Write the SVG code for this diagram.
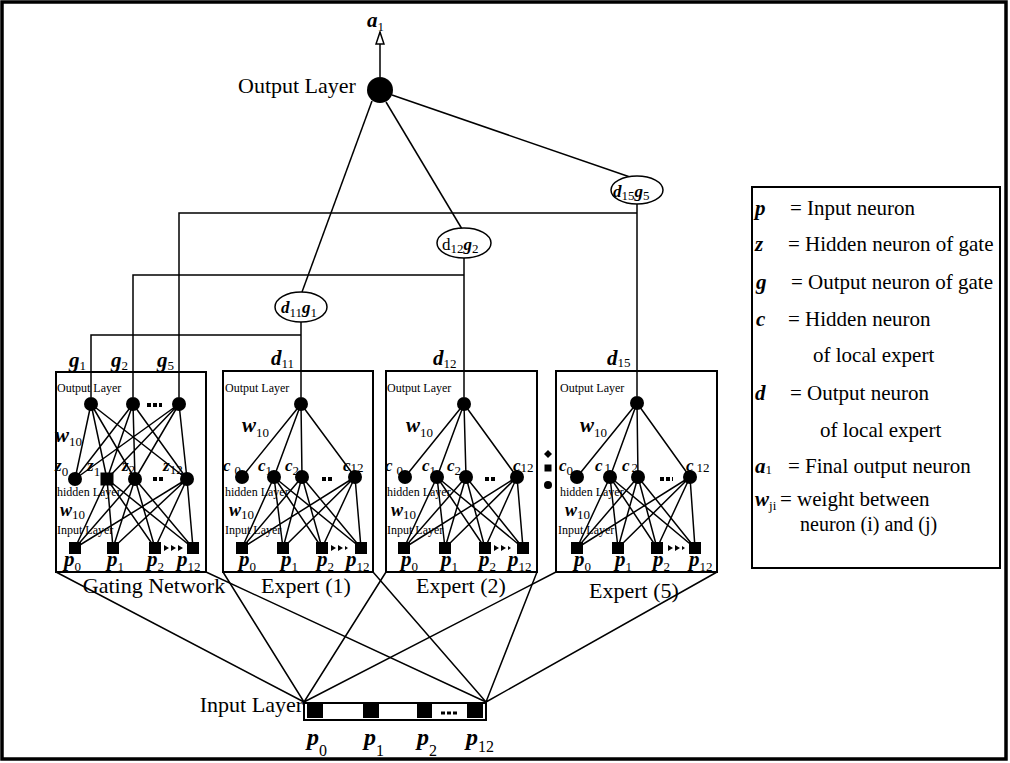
<svg xmlns="http://www.w3.org/2000/svg" width="1010" height="763" viewBox="0 0 1010 763">
<defs>
<style>
.ln{stroke:#000;stroke-width:1.5;fill:none}
.bx{stroke:#000;stroke-width:2;fill:none}
.nd{fill:#000}
text{font-family:"Liberation Serif","Times New Roman",serif;fill:#000}
.big{font-size:22px}
.leg{font-size:21px}
.sm{font-size:12px}
.m{font-style:italic;font-weight:bold;font-size:21px}
.mw{font-style:italic;font-weight:bold;font-size:18px}
.ms{font-style:italic;font-weight:bold;font-size:17px}
.sub{font-size:13px}
.dots{stroke:#000;stroke-width:4;stroke-dasharray:4 2;fill:none}
</style>
<marker id="oa" markerWidth="14" markerHeight="10" refX="13" refY="5" orient="auto" markerUnits="userSpaceOnUse" viewBox="0 0 14 10">
<path d="M13,5 L1,1 L1,9 Z" fill="#fff" stroke="#000" stroke-width="1.5"/>
</marker>
</defs>
<rect x="0" y="0" width="1010" height="763" fill="#fff"/>
<rect x="2" y="2" width="1004" height="757" fill="none" stroke="#000" stroke-width="3.5"/>

<g id="connectors">
<path class="ln" d="M380,77 V32" marker-end="url(#oa)"/>
<path class="ln" d="M372,101 L302,292"/>
<path class="ln" d="M386,102 L462,229"/>
<path class="ln" d="M392,95 L630,177"/>
<path class="ln" d="M301,322 V397"/>
<path class="ln" d="M464,258 V397"/>
<path class="ln" d="M637,204 V396"/>
<path class="ln" d="M91,397 V335 H301"/>
<path class="ln" d="M133,397 V275 H464"/>
<path class="ln" d="M179,397 V213 H637"/>
<path class="ln" d="M56,572 L304,702 M223,572 L304,702 M386,572 L304,702 M556,572 L304,702"/>
<path class="ln" d="M206,572 L486,702 M373,572 L486,702 M537,572 L486,702 M717,572 L486,702"/>
</g>

<g id="output-node">
<circle class="nd" cx="380" cy="90" r="13"/>
<text class="big" x="238" y="93">Output Layer</text>
<text x="367" y="27"><tspan class="m">a</tspan><tspan class="sub" dy="4">1</tspan></text>
</g>

<g id="gate-d11g1">
<ellipse cx="301" cy="307" rx="26" ry="15" fill="#fff" stroke="#000" stroke-width="1.5"/>
<text x="281" y="313"><tspan class="ms">d</tspan><tspan class="sub" dy="4">11</tspan><tspan class="ms" dy="-4">g</tspan><tspan class="sub" dy="4">1</tspan></text>
</g>
<g id="gate-d12g2">
<ellipse cx="464" cy="243" rx="27" ry="15" fill="#fff" stroke="#000" stroke-width="1.5"/>
<text x="442" y="250"><tspan style="font-size:17px">d</tspan><tspan class="sub" dy="3">12</tspan><tspan class="ms" dy="-3">g</tspan><tspan class="sub" dy="3">2</tspan></text>
</g>
<g id="gate-d15g5">
<ellipse cx="637" cy="190" rx="26" ry="14" fill="#fff" stroke="#000" stroke-width="1.5"/>
<text x="613" y="197"><tspan class="ms">d</tspan><tspan class="sub" dy="3">15</tspan><tspan class="ms" dy="-3">g</tspan><tspan class="sub" dy="3">5</tspan></text>
</g>

<g id="gating-network">
<rect class="bx" x="56" y="372" width="150" height="200"/>
<path class="ln" d="M91,404L75,479 M91,404L107,479 M91,404L135,479 M91,404L187,479 M133,404L75,479 M133,404L107,479 M133,404L135,479 M133,404L187,479 M179,404L75,479 M179,404L107,479 M179,404L135,479 M179,404L187,479"/>
<path class="ln" d="M107,479L75,548 M107,479L113,548 M107,479L155,548 M107,479L193,548 M135,479L75,548 M135,479L113,548 M135,479L155,548 M135,479L193,548 M187,479L75,548 M187,479L113,548 M187,479L155,548 M187,479L193,548"/>
<circle class="nd" cx="91" cy="404" r="7"/><circle class="nd" cx="133" cy="404" r="7"/><circle class="nd" cx="179" cy="404" r="7"/>
<path class="dots" d="M147,405 H162"/>
<circle class="nd" cx="75" cy="479" r="7"/><rect class="nd" x="100.5" y="472.5" width="13" height="13"/><circle class="nd" cx="135" cy="479" r="7"/><circle class="nd" cx="187" cy="479" r="7"/>
<path class="dots" d="M153,479 H163"/>
<rect class="nd" x="69" y="542" width="12" height="12"/><rect class="nd" x="107" y="542" width="12" height="12"/><rect class="nd" x="149" y="542" width="12" height="12"/><rect class="nd" x="187" y="542" width="12" height="12"/>
<path class="nd" d="M164,545 l5,3 l-5,3 Z M171,545 l5,3 l-5,3 Z M178,545 l5,3 l-5,3 Z"/>
<text class="sm" x="57" y="392">Output Layer</text>
<text class="sm" x="57" y="496">hidden Layer</text>
<text class="sm" x="57" y="534">Input Layer</text>
<text x="69" y="367"><tspan class="m">g</tspan><tspan class="sub" dy="3">1</tspan></text>
<text x="111" y="367"><tspan class="m">g</tspan><tspan class="sub" dy="3">2</tspan></text>
<text x="157" y="367"><tspan class="m">g</tspan><tspan class="sub" dy="3">5</tspan></text>
<text x="55" y="442"><tspan class="m">w</tspan><tspan class="sub" dy="4">10</tspan></text>
<text x="60" y="516"><tspan class="mw">w</tspan><tspan class="sub" dy="3">10</tspan></text>
<text x="55" y="471"><tspan class="ms">z</tspan><tspan class="sub" dy="5">0</tspan></text>
<text x="87" y="471"><tspan class="ms">z</tspan><tspan class="sub" dy="5">1</tspan></text>
<text x="122" y="471"><tspan class="ms">z</tspan><tspan class="sub" dy="3">2</tspan></text>
<text x="163" y="471"><tspan class="ms">z</tspan><tspan class="sub" dy="3">12</tspan></text>
<text x="64" y="566"><tspan class="m">p</tspan><tspan class="sub" dy="5">0</tspan></text>
<text x="107" y="566"><tspan class="m">p</tspan><tspan class="sub" dy="5">1</tspan></text>
<text x="147" y="566"><tspan class="m">p</tspan><tspan class="sub" dy="5">2</tspan></text>
<text x="177" y="566"><tspan class="m">p</tspan><tspan class="sub" dy="5">12</tspan></text>
<text class="big" x="154" y="593" text-anchor="middle">Gating Network</text>
</g>

<g id="expert-1">
<rect class="bx" x="223" y="371" width="150" height="201"/>
<path class="ln" d="M301,404L242,477 M301,404L274,477 M301,404L302,477 M301,404L355,477"/>
<path class="ln" d="M274,477L242,548 M274,477L283,548 M274,477L322,548 M274,477L361,548 M302,477L242,548 M302,477L283,548 M302,477L322,548 M302,477L361,548 M355,477L242,548 M355,477L283,548 M355,477L322,548 M355,477L361,548"/>
<circle class="nd" cx="301" cy="404" r="7"/>
<circle class="nd" cx="242" cy="477" r="7"/><circle class="nd" cx="274" cy="477" r="7"/><circle class="nd" cx="302" cy="477" r="7"/><circle class="nd" cx="355" cy="477" r="7"/>
<path class="dots" d="M322,479 H333"/>
<rect class="nd" x="236" y="542" width="12" height="12"/><rect class="nd" x="277" y="542" width="12" height="12"/><rect class="nd" x="316" y="542" width="12" height="12"/><rect class="nd" x="355" y="542" width="12" height="12"/>
<path class="nd" d="M331,545 l5,3 l-5,3 Z M338,545 l5,3 l-5,3 Z M345,546 l3,2 l-3,2 Z"/>
<text class="sm" x="225" y="392">Output Layer</text>
<text class="sm" x="225" y="496">hidden Layer</text>
<text class="sm" x="225" y="534">Input Layer</text>
<text x="271" y="365"><tspan class="m">d</tspan><tspan class="sub" dy="3">11</tspan></text>
<text x="242" y="432"><tspan class="m">w</tspan><tspan class="sub" dy="5">10</tspan></text>
<text x="229" y="516"><tspan class="mw">w</tspan><tspan class="sub" dy="3">10</tspan></text>
<text x="223" y="471"><tspan class="ms">c</tspan><tspan class="sub" dy="4" dx="4">0</tspan></text>
<text x="258" y="471"><tspan class="ms">c</tspan><tspan class="sub" dy="4">1</tspan></text>
<text x="285" y="471"><tspan class="ms">c</tspan><tspan class="sub" dy="4">2</tspan></text>
<text x="343" y="471"><tspan class="ms">c</tspan><tspan class="sub" dy="1">12</tspan></text>
<text x="239" y="566"><tspan class="m">p</tspan><tspan class="sub" dy="5">0</tspan></text>
<text x="281" y="566"><tspan class="m">p</tspan><tspan class="sub" dy="5">1</tspan></text>
<text x="317" y="566"><tspan class="m">p</tspan><tspan class="sub" dy="5">2</tspan></text>
<text x="346" y="566"><tspan class="m">p</tspan><tspan class="sub" dy="5">12</tspan></text>
<text class="big" x="306" y="593" text-anchor="middle">Expert (1)</text>
</g>

<g id="expert-2">
<rect class="bx" x="386" y="371" width="151" height="201"/>
<path class="ln" d="M464,404L405,477 M464,404L437,477 M464,404L466,477 M464,404L517,477"/>
<path class="ln" d="M437,477L404,548 M437,477L445,548 M437,477L485,548 M437,477L523,548 M466,477L404,548 M466,477L445,548 M466,477L485,548 M466,477L523,548 M517,477L404,548 M517,477L445,548 M517,477L485,548 M517,477L523,548"/>
<circle class="nd" cx="464" cy="404" r="7"/>
<circle class="nd" cx="405" cy="477" r="7"/><circle class="nd" cx="437" cy="477" r="7"/><circle class="nd" cx="466" cy="477" r="7"/><circle class="nd" cx="517" cy="477" r="7"/>
<path class="dots" d="M485,479 H497"/>
<rect class="nd" x="398" y="542" width="12" height="12"/><rect class="nd" x="439" y="542" width="12" height="12"/><rect class="nd" x="479" y="542" width="12" height="12"/><rect class="nd" x="517" y="542" width="12" height="12"/>
<path class="nd" d="M494,545 l5,3 l-5,3 Z M501,545 l5,3 l-5,3 Z M508,546 l3,2 l-3,2 Z"/>
<text class="sm" x="387" y="392">Output Layer</text>
<text class="sm" x="387" y="496">hidden Layer</text>
<text class="sm" x="387" y="534">Input Layer</text>
<text x="433" y="365"><tspan class="m">d</tspan><tspan class="sub" dy="3">12</tspan></text>
<text x="406" y="432"><tspan class="m">w</tspan><tspan class="sub" dy="5">10</tspan></text>
<text x="391" y="516"><tspan class="mw">w</tspan><tspan class="sub" dy="3">10</tspan></text>
<text x="385" y="471"><tspan class="ms">c</tspan><tspan class="sub" dy="4" dx="4">0</tspan></text>
<text x="422" y="471"><tspan class="ms">c</tspan><tspan class="sub" dy="4">1</tspan></text>
<text x="447" y="471"><tspan class="ms">c</tspan><tspan class="sub" dy="4">2</tspan></text>
<text x="513" y="471"><tspan class="ms">c</tspan><tspan class="sub" dy="1">12</tspan></text>
<text x="401" y="566"><tspan class="m">p</tspan><tspan class="sub" dy="5">0</tspan></text>
<text x="441" y="566"><tspan class="m">p</tspan><tspan class="sub" dy="5">1</tspan></text>
<text x="479" y="566"><tspan class="m">p</tspan><tspan class="sub" dy="5">2</tspan></text>
<text x="508" y="566"><tspan class="m">p</tspan><tspan class="sub" dy="5">12</tspan></text>
<text class="big" x="461" y="593" text-anchor="middle">Expert (2)</text>
</g>

<g id="ellipsis-experts">
<path class="nd" d="M548,450 l4,4 l-4,4 l-4,-4 Z"/>
<rect class="nd" x="544.5" y="464.5" width="7" height="7"/>
<circle class="nd" cx="548" cy="485" r="4"/>
</g>

<g id="expert-5">
<rect class="bx" x="556" y="371" width="161" height="201"/>
<path class="ln" d="M637,403L577,477 M637,403L610,477 M637,403L638,477 M637,403L690,477"/>
<path class="ln" d="M610,477L577,548 M610,477L618,548 M610,477L657,548 M610,477L695,548 M638,477L577,548 M638,477L618,548 M638,477L657,548 M638,477L695,548 M690,477L577,548 M690,477L618,548 M690,477L657,548 M690,477L695,548"/>
<circle class="nd" cx="637" cy="403" r="7"/>
<circle class="nd" cx="577" cy="477" r="7"/><circle class="nd" cx="610" cy="477" r="7"/><circle class="nd" cx="638" cy="477" r="7"/><circle class="nd" cx="690" cy="477" r="7"/>
<path class="dots" d="M660,479 H673"/>
<rect class="nd" x="571" y="542" width="12" height="12"/><rect class="nd" x="612" y="542" width="12" height="12"/><rect class="nd" x="651" y="542" width="12" height="12"/><rect class="nd" x="689" y="542" width="12" height="12"/>
<path class="nd" d="M668,545 l5,3 l-5,3 Z M675,545 l5,3 l-5,3 Z M682,546 l3,2 l-3,2 Z"/>
<text class="sm" x="560" y="392">Output Layer</text>
<text class="sm" x="560" y="496">hidden Layer</text>
<text class="sm" x="558" y="534">Input Layer</text>
<text x="607" y="365"><tspan class="m">d</tspan><tspan class="sub" dy="2">15</tspan></text>
<text x="580" y="432"><tspan class="m">w</tspan><tspan class="sub" dy="5">10</tspan></text>
<text x="565" y="516"><tspan class="mw">w</tspan><tspan class="sub" dy="3">10</tspan></text>
<text x="559" y="471"><tspan class="ms">c</tspan><tspan class="sub" dy="4">0</tspan></text>
<text x="595" y="471"><tspan class="ms">c</tspan><tspan class="sub" dy="1" dx="2">1</tspan></text>
<text x="622" y="471"><tspan class="ms">c</tspan><tspan class="sub" dy="1" dx="2">2</tspan></text>
<text x="686" y="471"><tspan class="ms">c</tspan><tspan class="sub" dy="1" dx="3">12</tspan></text>
<text x="574" y="566"><tspan class="m">p</tspan><tspan class="sub" dy="5">0</tspan></text>
<text x="615" y="566"><tspan class="m">p</tspan><tspan class="sub" dy="5">1</tspan></text>
<text x="653" y="566"><tspan class="m">p</tspan><tspan class="sub" dy="5">2</tspan></text>
<text x="689" y="566"><tspan class="m">p</tspan><tspan class="sub" dy="5">12</tspan></text>
<text class="big" x="634" y="598" text-anchor="middle">Expert (5)</text>
</g>

<g id="input-layer">
<rect class="bx" x="304" y="703" width="182" height="17"/>
<rect class="nd" x="307" y="703" width="16" height="15"/>
<rect class="nd" x="363" y="703" width="16" height="15"/>
<rect class="nd" x="417" y="703" width="15" height="15"/>
<rect class="nd" x="467" y="703" width="16" height="15"/>
<path class="dots" d="M441,713 H459" style="stroke-width:3"/>
<text class="big" x="303" y="712" text-anchor="end">Input Layer</text>
<text x="307" y="745"><tspan class="m" style="font-size:24px">p</tspan><tspan style="font-size:16px" dy="11">0</tspan></text>
<text x="364" y="745"><tspan class="m" style="font-size:24px">p</tspan><tspan style="font-size:16px" dy="11">1</tspan></text>
<text x="417" y="745"><tspan class="m" style="font-size:24px">p</tspan><tspan style="font-size:16px" dy="11">2</tspan></text>
<text x="466" y="745"><tspan class="m" style="font-size:24px">p</tspan><tspan style="font-size:16px" dy="7">12</tspan></text>
</g>

<g id="legend">
<rect class="bx" x="752" y="187" width="248" height="381"/>
<text x="755" y="215" class="m">p</text><text class="leg" x="790" y="215">= Input neuron</text>
<text x="755" y="251" class="m">z</text><text class="leg" x="788" y="251">= Hidden neuron of gate</text>
<text x="756" y="289" class="m">g</text><text class="leg" x="791" y="289">= Output neuron of gate</text>
<text x="756" y="326" class="m">c</text><text class="leg" x="788" y="326">= Hidden neuron</text>
<text class="leg" x="813" y="362">of local expert</text>
<text x="755" y="400" class="m">d</text><text class="leg" x="790" y="400">= Output neuron</text>
<text class="leg" x="820" y="437">of local expert</text>
<text x="755" y="473"><tspan class="m">a</tspan><tspan class="sub" dy="1">1</tspan></text><text class="leg" x="788" y="473">= Final output neuron</text>
<text x="755" y="506"><tspan class="m">w</tspan><tspan class="sub" dy="4">ji</tspan></text><text class="leg" x="780" y="506">= weight between</text>
<text x="800" y="531" style="font-size:20px">neuron (i) and (j)</text>
</g>
</svg>
